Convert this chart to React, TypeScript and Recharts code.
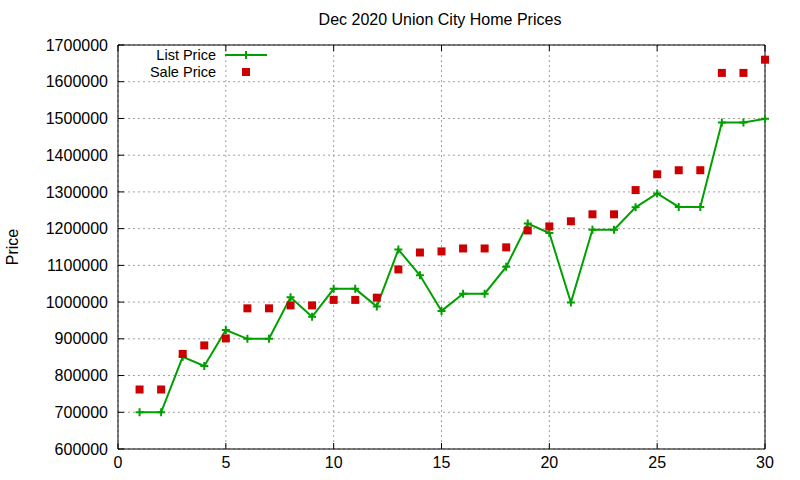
import React from "react";
import {
  ComposedChart,
  Line,
  XAxis,
  YAxis,
  CartesianGrid,
  Legend,
} from "recharts";

const FONT = '"Liberation Sans", Arial, sans-serif';
const GREEN = "#00a000";
const RED = "#cc0000";

const days = [
  1, 2, 3, 4, 5, 6, 7, 8, 9, 10, 11, 12, 13, 14, 15,
  16, 17, 18, 19, 20, 21, 22, 23, 24, 25, 26, 27, 28, 29, 30,
];

const listPrice = [
  700000, 700000, 851000, 826000, 924000, 900000, 900000, 1013000, 960000, 1036000,
  1036000, 988000, 1143000, 1073000, 976000, 1023000, 1023000, 1096000, 1214000, 1188000,
  999000, 1197000, 1197000, 1258000, 1296000, 1259000, 1259000, 1489000, 1489000, 1499000,
];

const salePrice = [
  762000, 762000, 859000, 882000, 901000, 983000, 983000, 991000, 991000, 1006000,
  1006000, 1012000, 1089000, 1135000, 1138000, 1146000, 1146000, 1149000, 1195000, 1206000,
  1220000, 1239000, 1239000, 1305000, 1348000, 1359000, 1359000, 1624000, 1624000, 1660000,
];

const xTicks = [0, 5, 10, 15, 20, 25, 30];
const yTicks = [
  600000, 700000, 800000, 900000, 1000000, 1100000,
  1200000, 1300000, 1400000, 1500000, 1600000, 1700000,
];

const data = days.map((d, i) => ({ day: d, list: listPrice[i], sale: salePrice[i] }));

const TIC = 6;

// gnuplot style: tic marks point into the plot, labels outside
function BottomTick(props: any) {
  const { x, y, payload } = props;
  return (
    <g>
      <line x1={x} y1={y} x2={x} y2={y - TIC} stroke="#000" />
      <text x={x} y={y + 19} textAnchor="middle" fontSize={16} fontFamily={FONT} fill="#000">
        {payload.value}
      </text>
    </g>
  );
}

function LeftTick(props: any) {
  const { x, y, payload } = props;
  return (
    <g>
      <line x1={x} y1={y} x2={x + TIC} y2={y} stroke="#000" />
      <text x={x - 10} y={y} dy="0.35em" textAnchor="end" fontSize={16} fontFamily={FONT} fill="#000">
        {payload.value}
      </text>
    </g>
  );
}

function TopTick(props: any) {
  const { x, y } = props;
  return <line x1={x} y1={y} x2={x} y2={y + TIC} stroke="#000" />;
}

function RightTick(props: any) {
  const { x, y } = props;
  return <line x1={x} y1={y} x2={x - TIC} y2={y} stroke="#000" />;
}

function PlusDot(props: any) {
  const { cx, cy, index } = props;
  if (cx == null || cy == null) return null;
  return (
    <path
      key={`p-${index}`}
      d={`M${cx - 4},${cy}h8M${cx},${cy - 4}v8`}
      stroke={GREEN}
      strokeWidth={2}
      fill="none"
    />
  );
}

function SquareDot(props: any) {
  const { cx, cy, index } = props;
  if (cx == null || cy == null) return null;
  return <rect key={`s-${index}`} x={cx - 4} y={cy - 4} width={8} height={8} fill={RED} />;
}

function KeyBox() {
  const row: React.CSSProperties = { display: "flex", alignItems: "center", height: 16.5, lineHeight: "16.5px" };
  const label: React.CSSProperties = { width: 116, textAlign: "right", marginRight: 9 };
  return (
    <div style={{ fontFamily: FONT, fontSize: 14.5, color: "#000" }}>
      <div style={row}>
        <span style={label}>List Price</span>
        <svg width={42} height={16}>
          <line x1={0} y1={8} x2={42} y2={8} stroke={GREEN} strokeWidth={2} />
          <line x1={21} y1={4} x2={21} y2={12} stroke={GREEN} strokeWidth={2} />
        </svg>
      </div>
      <div style={row}>
        <span style={label}>Sale Price</span>
        <svg width={42} height={16}>
          <rect x={17} y={4} width={8} height={8} fill={RED} />
        </svg>
      </div>
    </div>
  );
}

export default function App() {
  return (
    <div
      style={{
        position: "absolute",
        left: 0,
        top: 0,
        width: 800,
        height: 480,
        background: "#fff",
        fontFamily: FONT,
      }}
    >
      <div
        style={{
          position: "absolute",
          left: 118,
          width: 644,
          top: 11,
          textAlign: "center",
          fontSize: 16,
          color: "#000",
        }}
      >
        Dec 2020 Union City Home Prices
      </div>
      <ComposedChart
        width={800}
        height={480}
        data={data}
        margin={{ top: 44, right: 34, bottom: 0, left: 0 }}
      >
        <CartesianGrid stroke="#a0a0a0" strokeDasharray="2 3" />
        <XAxis
          dataKey="day"
          type="number"
          domain={[0, 30]}
          ticks={xTicks}
          height={31}
          tickSize={0}
          tickMargin={0}
          tickLine={false}
          axisLine={{ stroke: "#000" }}
          tick={<BottomTick />}
          interval={0}
        />
        <XAxis
          xAxisId="top"
          orientation="top"
          dataKey="day"
          type="number"
          domain={[0, 30]}
          ticks={xTicks}
          height={1}
          tickSize={0}
          tickMargin={0}
          tickLine={false}
          axisLine={{ stroke: "#000" }}
          tick={<TopTick />}
          interval={0}
        />
        <YAxis
          type="number"
          domain={[600000, 1700000]}
          ticks={yTicks}
          width={118}
          tickSize={0}
          tickMargin={0}
          tickLine={false}
          axisLine={{ stroke: "#000" }}
          tick={<LeftTick />}
          interval={0}
          label={{
            value: "Price",
            angle: -90,
            position: "insideLeft",
            offset: 12,
            style: { textAnchor: "middle", fontSize: 16, fontFamily: FONT, fill: "#000" },
          }}
        />
        <YAxis
          yAxisId="right"
          orientation="right"
          type="number"
          domain={[600000, 1700000]}
          ticks={yTicks}
          width={1}
          tickSize={0}
          tickMargin={0}
          tickLine={false}
          axisLine={{ stroke: "#000" }}
          tick={<RightTick />}
          interval={0}
        />
        <Legend
          layout="vertical"
          align="center"
          verticalAlign="middle"
          wrapperStyle={{ left: 100, top: 47, width: 180 }}
          content={() => <KeyBox />}
        />
        <Line
          type="linear"
          dataKey="list"
          name="List Price"
          stroke={GREEN}
          strokeWidth={2}
          dot={<PlusDot />}
          activeDot={false}
          isAnimationActive={false}
        />
        <Line
          type="linear"
          dataKey="sale"
          name="Sale Price"
          stroke="none"
          dot={<SquareDot />}
          activeDot={false}
          isAnimationActive={false}
        />
      </ComposedChart>
    </div>
  );
}
